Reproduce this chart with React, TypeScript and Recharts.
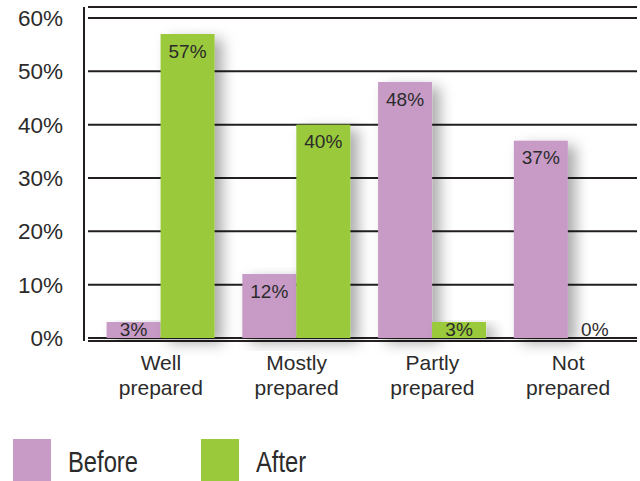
import { BarChart, Bar, XAxis, YAxis, CartesianGrid, LabelList } from 'recharts';

const categories = ['Well prepared', 'Mostly prepared', 'Partly prepared', 'Not prepared'];
const beforeValues = [3, 12, 48, 37];
const afterValues = [57, 40, 3, 0];
const yTicks = [0, 10, 20, 30, 40, 50, 60];

const BEFORE_COLOR = '#c89bc7';
const AFTER_COLOR = '#9ac93b';
const INK = '#2b2b2b';
const FONT = '"Liberation Sans", Arial, Helvetica, sans-serif';

const data = categories.map((name, i) => ({
  name,
  before: beforeValues[i],
  after: afterValues[i],
}));

// bar with a soft drop shadow to the lower right
const ShadowBar = (props: any) => {
  const { x, y, width, height, fill } = props;
  if (width == null || height == null) return null;
  return <rect x={x} y={y} width={width} height={height} fill={fill} filter="url(#barShadow)" />;
};

// value label sits just inside the top of the bar, clamped for short bars
const ValueLabel = (props: any) => {
  const { x, y, width, height, value } = props;
  const cx = Number(x) + Number(width) / 2;
  const top = Number(y);
  const bottom = top + Number(height);
  const cy = Math.min(top + 17, bottom - 9);
  return (
    <text
      x={cx}
      y={cy}
      textAnchor="middle"
      dominantBaseline="central"
      fontSize={19}
      fontFamily={FONT}
      fill={INK}
    >
      {value}%
    </text>
  );
};

// two-line category label under each group
const CategoryTick = (props: any) => {
  const { x, y, payload } = props;
  const label: string = payload.value;
  const idx = label.indexOf(' ');
  const lines = idx > 0 ? [label.slice(0, idx), label.slice(idx + 1)] : [label];
  return (
    <g>
      {lines.map((line, i) => (
        <text
          key={i}
          x={x}
          y={y + 29 + i * 25}
          textAnchor="middle"
          fontSize={21}
          fontFamily={FONT}
          fill={INK}
        >
          {line}
        </text>
      ))}
    </g>
  );
};

const legendItems = [
  { label: 'Before', color: BEFORE_COLOR, left: 13 },
  { label: 'After', color: AFTER_COLOR, left: 201 },
];

export default function App() {
  return (
    <div
      style={{
        position: 'absolute',
        left: 0,
        top: 0,
        width: 640,
        height: 481,
        background: '#fff',
        overflow: 'hidden',
      }}
    >
      <BarChart
        width={640}
        height={481}
        data={data}
        margin={{ top: 7, right: 4, left: 0, bottom: 80 }}
        barCategoryGap="10%"
        barGap={0}
      >
        <defs>
          <filter id="barShadow" x="-40%" y="-10%" width="220%" height="130%">
            <feDropShadow dx={8} dy={5} stdDeviation={7} floodColor="#000" floodOpacity={0.33} />
          </filter>
        </defs>
        <CartesianGrid
          vertical={false}
          stroke="#231f20"
          strokeWidth={2}
          x={88}
          width={549}
        />
        <XAxis
          dataKey="name"
          axisLine={false}
          tickLine={false}
          tickSize={0}
          tickMargin={0}
          height={60}
          padding={{ left: 9, right: 0 }}
          interval={0}
          tick={<CategoryTick />}
        />
        <YAxis
          type="number"
          domain={[-0.5625, 62.0625]}
          ticks={yTicks}
          interval={0}
          width={84}
          axisLine={{ stroke: '#231f20', strokeWidth: 2 }}
          tickLine={false}
          tickSize={0}
          tickMargin={21}
          tickFormatter={(v: number) => `${v}%`}
          tick={{ fontSize: 22.5, fill: INK, fontFamily: FONT }}
        />
        <Bar dataKey="before" fill={BEFORE_COLOR} shape={<ShadowBar />} isAnimationActive={false}>
          <LabelList dataKey="before" content={<ValueLabel />} />
        </Bar>
        <Bar dataKey="after" fill={AFTER_COLOR} shape={<ShadowBar />} isAnimationActive={false}>
          <LabelList dataKey="after" content={<ValueLabel />} />
        </Bar>
      </BarChart>

      {/* legend: colour swatch plus a slightly condensed label */}
      <svg
        width={640}
        height={481}
        style={{ position: 'absolute', left: 0, top: 0, pointerEvents: 'none' }}
      >
        {legendItems.map((item) => (
          <g key={item.label}>
            <rect x={item.left} y={439} width={38} height={45} fill={item.color} />
            <text
              x={item.left + 55}
              y={472}
              fontSize={29}
              fontFamily={FONT}
              fill={INK}
              transform={`translate(${item.left + 55} 0) scale(0.82 1) translate(${-(item.left + 55)} 0)`}
            >
              {item.label}
            </text>
          </g>
        ))}
      </svg>
    </div>
  );
}
